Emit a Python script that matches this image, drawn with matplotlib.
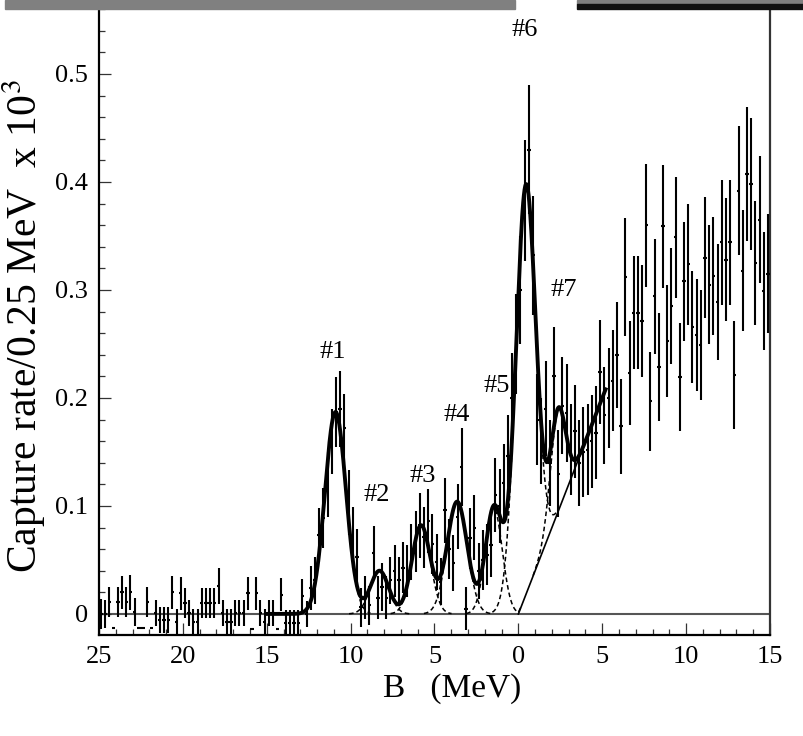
import numpy as np
import matplotlib.pyplot as plt
from matplotlib.patches import Rectangle
from matplotlib.ticker import FixedLocator, MultipleLocator

plt.rcParams['font.family'] = ['Liberation Serif', 'DejaVu Serif']
plt.rcParams['mathtext.fontset'] = 'stix'

# measured spectrum, 0.25 MeV bins starting at -B = -25 MeV
bin_start = -25.0
bin_width = 0.25
rate = [
    # -25 .. -15
    0.000, 0.000, 0.011, -0.013, 0.011, 0.020, 0.011, 0.020, 0.002, -0.013,
    -0.013, 0.011, -0.013, 0.001, -0.006, -0.006, -0.006, 0.020, -0.007, 0.019,
    0.010, 0.001, -0.007, -0.007, 0.010, 0.010, 0.010, 0.010, 0.026, 0.001,
    -0.007, -0.007, 0.001, 0.001, 0.001, 0.019, -0.014, 0.019, 0.001, -0.007,
    # -15 .. -5
    0.001, 0.001, -0.014, 0.018, -0.008, -0.008, -0.008, -0.008, 0.017, 0.000,
    0.024, 0.031, 0.073, 0.089, 0.120, 0.160, 0.187, 0.190, 0.172, 0.103,
    0.071, 0.053, 0.006, 0.015, 0.008, 0.056, 0.015, 0.025, 0.015, 0.031,
    0.040, 0.031, 0.043, 0.040, 0.057, 0.067, 0.082, 0.071, 0.086, 0.065,
    # -5 .. 5
    0.048, 0.030, 0.096, 0.060, 0.047, 0.090, 0.136, 0.005, 0.070, 0.080,
    0.040, 0.050, 0.055, 0.064, 0.110, 0.100, 0.121, 0.146, 0.200, 0.250,
    0.300, 0.383, 0.430, 0.332, 0.180, 0.160, 0.190, 0.140, 0.220, 0.130,
    0.193, 0.186, 0.152, 0.169, 0.140, 0.150, 0.152, 0.160, 0.168, 0.224,
    # 5 .. 15
    0.184, 0.200, 0.216, 0.240, 0.174, 0.312, 0.223, 0.279, 0.279, 0.271,
    0.360, 0.197, 0.294, 0.229, 0.359, 0.253, 0.285, 0.349, 0.219, 0.308,
    0.324, 0.266, 0.258, 0.249, 0.330, 0.305, 0.313, 0.289, 0.344, 0.328,
    0.344, 0.221, 0.392, 0.318, 0.407, 0.398, 0.325, 0.365, 0.299, 0.315,
]
rate_err = [
    0.014, 0.013, 0.014, 0.000, 0.014, 0.015, 0.014, 0.016, 0.013, 0.000,
    0.000, 0.014, 0.000, 0.012, 0.012, 0.012, 0.012, 0.015, 0.012, 0.015,
    0.014, 0.012, 0.012, 0.012, 0.014, 0.014, 0.014, 0.014, 0.017, 0.012,
    0.012, 0.012, 0.012, 0.012, 0.012, 0.015, 0.000, 0.015, 0.012, 0.012,
    0.012, 0.012, 0.000, 0.015, 0.012, 0.012, 0.012, 0.012, 0.015, 0.012,
    0.020, 0.022, 0.025, 0.028, 0.030, 0.030, 0.032, 0.035, 0.032, 0.030,
    0.028, 0.026, 0.018, 0.020, 0.018, 0.025, 0.020, 0.022, 0.020, 0.022,
    0.024, 0.022, 0.024, 0.024, 0.026, 0.028, 0.030, 0.028, 0.030, 0.028,
    0.026, 0.022, 0.030, 0.028, 0.026, 0.030, 0.036, 0.020, 0.028, 0.030,
    0.026, 0.028, 0.028, 0.030, 0.034, 0.034, 0.036, 0.038, 0.042, 0.046,
    0.050, 0.056, 0.060, 0.055, 0.042, 0.040, 0.044, 0.040, 0.046, 0.040,
    0.045, 0.045, 0.042, 0.043, 0.040, 0.042, 0.042, 0.043, 0.043, 0.048,
    0.045, 0.046, 0.047, 0.049, 0.044, 0.055, 0.048, 0.052, 0.052, 0.052,
    0.057, 0.046, 0.053, 0.050, 0.057, 0.052, 0.054, 0.056, 0.050, 0.055,
    0.056, 0.052, 0.052, 0.051, 0.056, 0.055, 0.055, 0.054, 0.058, 0.057,
    0.058, 0.050, 0.060, 0.056, 0.062, 0.061, 0.057, 0.059, 0.055, 0.055,
]

# fitted peaks #1..#7 (position in -B, height, gaussian sigma) and linear background
peak_names = ['#1', '#2', '#3', '#4', '#5', '#6', '#7']
peak_pos = [-10.9, -8.28, -5.8, -3.65, -1.46, 0.43, 2.36]
peak_height = [0.187, 0.040, 0.082, 0.104, 0.098, 0.380, 0.094]
peak_sigma = [0.63, 0.55, 0.55, 0.60, 0.50, 0.60, 0.45]
bg_slope = 0.04
fit_range = (-15.0, 5.2)

# label positions (x, y) for the peak names
label_x = [-11.09, -8.43, -5.70, -3.70, -1.27, 0.37, 2.70]
label_y = [0.243, 0.110, 0.128, 0.184, 0.211, 0.541, 0.300]

xtick_pos = [-25, -20, -15, -10, -5, 0, 5, 10, 15]
xtick_lab = ['25', '20', '15', '10', '5', '0', '5', '10', '15']
ytick_pos = [0, 0.1, 0.2, 0.3, 0.4, 0.5]
ytick_lab = ['0', '0.1', '0.2', '0.3', '0.4', '0.5']

centers = bin_start + bin_width * (np.arange(len(rate)) + 0.5)


def background(x):
    return np.where(x > 0, bg_slope * x, 0.0)


def peak(x, i):
    return peak_height[i] * np.exp(-(x - peak_pos[i]) ** 2 / (2 * peak_sigma[i] ** 2))


fig = plt.figure(figsize=(8.04, 7.36), dpi=100)
ax = fig.add_axes([99 / 804, 1 - 635 / 736, 671 / 804, 635 / 736])

ax.errorbar(centers, rate, yerr=rate_err, xerr=0.1, fmt='none',
            ecolor='black', elinewidth=1.5, capsize=0, zorder=3)

ax.axhline(0, color='#555555', lw=1.5, zorder=1)

# individual components (dashed)
for i in range(len(peak_pos)):
    xc = np.linspace(peak_pos[i] - 3.3 * peak_sigma[i], peak_pos[i] + 3.3 * peak_sigma[i], 200)
    ax.plot(xc, background(xc) + peak(xc, i), color='black', lw=1.1,
            dashes=(3, 2), zorder=2)

# background line
xb = np.linspace(0, fit_range[1], 50)
ax.plot(xb, background(xb), color='black', lw=1.2, zorder=2)

# total fit
xf = np.linspace(fit_range[0], fit_range[1], 1000)
total = background(xf) + sum(peak(xf, i) for i in range(len(peak_pos)))
ax.plot(xf, total, color='black', lw=2.8, zorder=4)

for name, lx, ly in zip(peak_names, label_x, label_y):
    ax.text(lx, ly, name, fontsize=19, ha='center', va='center')

ax.set_xlim(-25, 15)
ax.set_ylim(-0.0195, 0.5685)
ax.xaxis.set_major_locator(FixedLocator(xtick_pos))
ax.set_xticklabels(xtick_lab)
ax.xaxis.set_minor_locator(MultipleLocator(1))
ax.yaxis.set_major_locator(FixedLocator(ytick_pos))
ax.set_yticklabels(ytick_lab)
ax.yaxis.set_minor_locator(MultipleLocator(0.02))
ax.tick_params(which='both', direction='in', color='#333333', width=0.9,
               top=False, right=False, labelsize=19)
ax.tick_params(which='major', length=8.5)
ax.tick_params(which='minor', length=4)
ax.tick_params(axis='x', pad=8)
ax.tick_params(axis='y', pad=8)
ax.spines['top'].set_visible(False)
for s in ['left', 'bottom', 'right']:
    ax.spines[s].set_linewidth(1.6)
ax.spines['right'].set_color('#333333')

fig.text(24 / 804, 1 - 326 / 736, r'Capture rate/0.25 MeV  x 10$^{3}$',
         rotation=90, ha='center', va='center', fontsize=30)
fig.text(452 / 804, 1 - 689 / 736, 'B   (MeV)', ha='center', va='center', fontsize=24)

# scan edge bars at the top of the page
fig.patches.append(Rectangle((5 / 804, 1 - 9 / 736), 510 / 804, 9 / 736,
                             transform=fig.transFigure, color='#808080', zorder=5))
fig.patches.append(Rectangle((577 / 804, 1 - 4 / 736), 227 / 804, 4 / 736,
                             transform=fig.transFigure, color='#808080', zorder=5))
fig.patches.append(Rectangle((577 / 804, 1 - 9 / 736), 227 / 804, 5 / 736,
                             transform=fig.transFigure, color='#111111', zorder=5))

fig.savefig('out.png', dpi=100)
